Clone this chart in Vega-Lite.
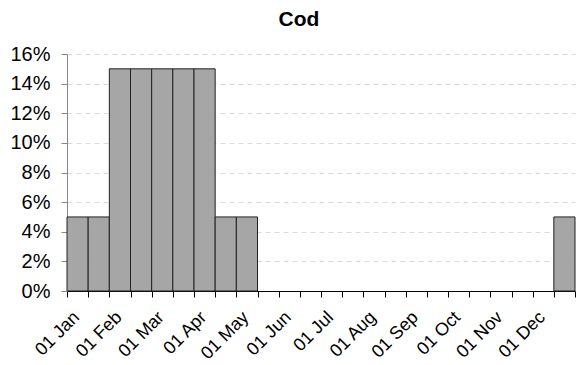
{
  "$schema": "https://vega.github.io/schema/vega-lite/v6.json",
  "autosize": "none",
  "width": 508,
  "height": 237,
  "padding": {"left": 67, "top": 54, "right": 2, "bottom": 74},
  "background": "white",
  "title": {"text": "Cod", "font": "Liberation Sans", "fontSize": 21, "fontWeight": "bold", "color": "black", "anchor": "middle", "frame": "group", "dx": -22, "offset": 14},
  "data": {"values": [
    {"start": 0, "end": 1, "share": 0.05},
    {"start": 1, "end": 2, "share": 0.05},
    {"start": 2, "end": 3, "share": 0.15},
    {"start": 3, "end": 4, "share": 0.15},
    {"start": 4, "end": 5, "share": 0.15},
    {"start": 5, "end": 6, "share": 0.15},
    {"start": 6, "end": 7, "share": 0.15},
    {"start": 7, "end": 8, "share": 0.05},
    {"start": 8, "end": 9, "share": 0.05},
    {"start": 9, "end": 10, "share": 0},
    {"start": 10, "end": 11, "share": 0},
    {"start": 11, "end": 12, "share": 0},
    {"start": 12, "end": 13, "share": 0},
    {"start": 13, "end": 14, "share": 0},
    {"start": 14, "end": 15, "share": 0},
    {"start": 15, "end": 16, "share": 0},
    {"start": 16, "end": 17, "share": 0},
    {"start": 17, "end": 18, "share": 0},
    {"start": 18, "end": 19, "share": 0},
    {"start": 19, "end": 20, "share": 0},
    {"start": 20, "end": 21, "share": 0},
    {"start": 21, "end": 22, "share": 0},
    {"start": 22, "end": 23, "share": 0},
    {"start": 23, "end": 24, "share": 0.05}
  ]},
  "transform": [{"filter": "datum.share > 0"}],
  "mark": {"type": "rect", "fill": "#a6a6a6", "stroke": "#222222", "strokeWidth": 1},
  "encoding": {
    "x": {
      "field": "start", "type": "quantitative",
      "scale": {"domain": [0, 24], "nice": false, "zero": false},
      "axis": {
        "title": null,
        "values": [0,1,2,3,4,5,6,7,8,9,10,11,12,13,14,15,16,17,18,19,20,21,22,23,24],
        "labelExpr": "datum.value % 2 == 0 && datum.value < 24 ? ['01 Jan','01 Feb','01 Mar','01 Apr','01 May','01 Jun','01 Jul','01 Aug','01 Sep','01 Oct','01 Nov','01 Dec'][datum.value / 2] : ''",
        "labelAngle": -45,
        "labelAlign": "right",
        "labelBaseline": "top",
        "labelOffset": 3,
        "labelPadding": 11,
        "labelFont": "Liberation Sans",
        "labelFontSize": 18,
        "labelColor": "black",
        "labelOverlap": false,
        "labelFlush": false,
        "labelBound": false,
        "grid": false,
        "domainColor": "black",
        "domainWidth": 1,
        "tickColor": "black",
        "tickSize": 6
      }
    },
    "x2": {"field": "end"},
    "y": {
      "field": "share", "type": "quantitative",
      "scale": {"domain": [0, 0.16], "nice": false},
      "axis": {
        "title": null,
        "values": [0, 0.02, 0.04, 0.06, 0.08, 0.1, 0.12, 0.14, 0.16],
        "format": ".0%",
        "labelFont": "Liberation Sans",
        "labelFontSize": 20,
        "labelColor": "black",
        "labelPadding": 11,
        "labelFlush": false,
        "grid": true,
        "gridColor": "#d9d9d9",
        "gridDash": [5, 4],
        "gridWidth": 1,
        "domainColor": "#888888",
        "tickColor": "#888888",
        "tickSize": 6
      }
    },
    "y2": {"datum": 0}
  },
  "config": {"view": {"stroke": null}}
}
